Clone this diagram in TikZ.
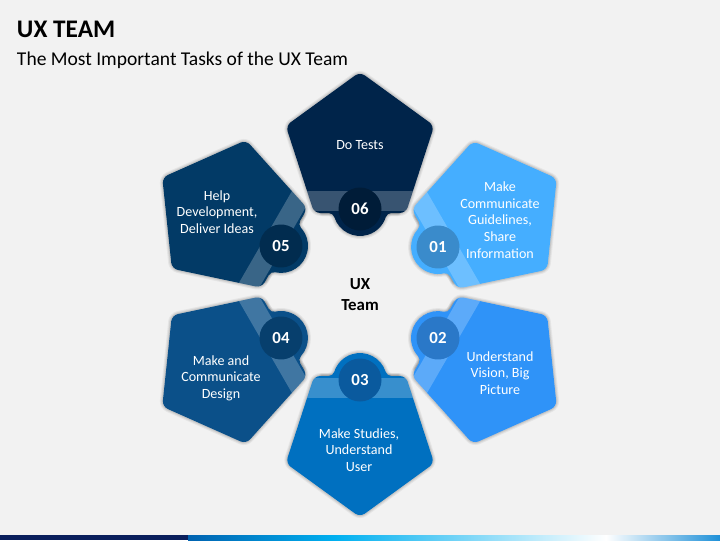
\documentclass[tikz,border=0pt]{standalone}
\usepackage{fontspec}
\setmainfont{Carlito}
\definecolor{bg}{HTML}{F2F2F2}
\definecolor{cA}{HTML}{45AEFF}\definecolor{dA}{HTML}{3A8BCB}
\definecolor{cB}{HTML}{2F93F8}\definecolor{dB}{HTML}{2A78C8}
\definecolor{cC}{HTML}{0070C0}\definecolor{dC}{HTML}{0A5A9E}
\definecolor{cD}{HTML}{0B5089}\definecolor{dD}{HTML}{073F6D}
\definecolor{cE}{HTML}{023A66}\definecolor{dE}{HTML}{012C4F}
\definecolor{cF}{HTML}{00244A}\definecolor{dF}{HTML}{001C38}
\definecolor{barnavy}{HTML}{0A1F5C}
\definecolor{barblue}{HTML}{0062B0}
\definecolor{barcyan}{HTML}{00B0F0}
\definecolor{barend}{HTML}{1E90D8}
\tikzset{
  pent/.style={insert path={(0,137.1) -- (-74.2,83.2) -- (-45.8,-4) -- (45.8,-4) -- (74.2,83.2) -- cycle}},
  bump/.style={insert path={(-38,-4) -- (-31.4,-4) arc[start angle=90,end angle=17.7,radius=6]
      arc[start angle=197.7,end angle=342.3,radius=27]
      arc[start angle=162.3,end angle=90,radius=6] -- (38,-4) -- (38,5) -- (-38,5) -- cycle}},
  petaltext/.style={text=white, align=center, inner sep=0pt, font=\fontsize{10}{11.8}\selectfont},
  numtext/.style={text=white, inner sep=0pt, font=\fontsize{12}{14}\selectfont\bfseries},
  halo/.style={draw=black, line join=round, draw opacity=#1}
}
\newcommand\petal[7]{%
  \begin{scope}[shift={(#1,#2)}, rotate=#3]
    \foreach \w/\o in {6/0.05, 4/0.06, 2.2/0.08}{
      \path[halo=\o, line width=\w*0.025cm, rounded corners=1.5mm, pent];
      \path[halo=\o, line width=\w*0.025cm, bump];
    }
    \fill[#4, rounded corners=1.5mm, pent] [sharp corners] [bump];
    \begin{scope}
      \path[clip, rounded corners=1.5mm, pent];
      \fill[white, opacity=0.22] (-90,-2) rectangle (90,18);
    \end{scope}
    \fill[#5] (0,0) circle[radius=21.5];
    \node[numtext] (#7) at (0,0) {#6};
  \end{scope}}
\begin{document}
\begin{tikzpicture}[x=0.025cm, y=0.025cm]
\useasboundingbox (0,0) rectangle (720,-540);
\fill[bg] (0,0) rectangle (720,-540);
% title
\node[anchor=base west, inner sep=0pt, font=\fontsize{18}{22}\selectfont\bfseries] (title) at (16.7,-37.3) {UX TEAM};
\node[anchor=base west, inner sep=0pt, font=\fontsize{13.9}{17}\selectfont] (subtitle) at (16.7,-65.7) {The Most Important Tasks of the UX Team};
% petals
\petal{438}{-247}{-60}{cA}{dA}{01}{n01}
\petal{438}{-338}{-120}{cB}{dB}{02}{n02}
\petal{360}{-380}{180}{cC}{dC}{03}{n03}
\petal{281}{-338}{120}{cD}{dD}{04}{n04}
\petal{281}{-246}{60}{cE}{dE}{05}{n05}
\petal{360}{-209}{0}{cF}{dF}{06}{n06}
% texts
\node[petaltext] (t01) at (500,-220) {Make\\Communicate\\Guidelines,\\Share\\Information};
\node[petaltext] (t02) at (500,-373) {Understand\\Vision, Big\\Picture};
\node[petaltext] (t03) at (359,-450) {Make Studies,\\Understand\\User};
\node[petaltext] (t04) at (221,-378) {Make and\\Communicate\\Design};
\node[petaltext] (t05) at (217,-212) {Help\\Development,\\Deliver Ideas};
\node[petaltext] (t06) at (360,-145.5) {Do Tests};
\node[align=center, inner sep=0pt, font=\fontsize{12}{14.9}\selectfont\bfseries] (center) at (360,-294.5) {UX\\Team};
% bottom bar
\fill[barnavy] (0,-535) rectangle (188,-540);
\shade[left color=barblue, right color=barcyan] (188,-535) rectangle (335,-540);
\shade[left color=barcyan, right color=white] (335,-535) rectangle (606,-540);
\shade[left color=white, right color=barend] (606,-535) rectangle (720,-540);
\end{tikzpicture}
\end{document}
